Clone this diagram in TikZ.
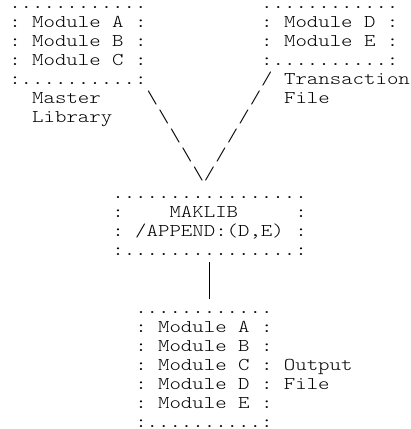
\documentclass[tikz,border=0pt]{standalone}
\usepackage{fontspec}
\newfontfamily\asciifont{lmmonolt10-regular.otf}
\frenchspacing
\tikzset{
  asc/.style={anchor=base west, inner sep=0pt, outer sep=0pt, xscale=1.21,
    font=\fontsize{18}{18}\selectfont\asciifont},
  pipe/.style={line width=0.8pt, black}
}
\newcommand\Tx[4]{\node[asc] (#1) at ({9.3+11.45*#2},{8.6+19.03*#3}) {#4};}
\begin{document}
\begin{tikzpicture}[x=1pt,y=-1pt]
\useasboundingbox (0,0) rectangle (411,429);
\fill[white] (0,0) rectangle (411,429);
% Master library box
\Tx{lbtop}{0}{0}{............}
\Tx{lbA}{0}{1}{: Module A :}
\Tx{lbB}{0}{2}{: Module B :}
\Tx{lbC}{0}{3}{: Module C :}
\Tx{lbbot}{0}{4}{:..........:}
\Tx{mlabA}{2}{5}{Master}
\Tx{mlabB}{2}{6}{Library}
% Transaction file box
\Tx{rbtop}{22}{0}{............}
\Tx{rbD}{22}{1}{: Module D :}
\Tx{rbE}{22}{2}{: Module E :}
\Tx{rbbot}{22}{3}{:..........:}
\Tx{tlabA}{24}{4}{Transaction}
\Tx{tlabB}{24}{5}{File}
% backslashes
\Tx{bsA}{12}{5}{\textbackslash}
\Tx{bsB}{13}{6}{\textbackslash}
\Tx{bsC}{14}{7}{\textbackslash}
\Tx{bsD}{15}{8}{\textbackslash}
\Tx{bsE}{16}{9}{\textbackslash}
% slashes
\Tx{fsA}{22}{4}{/}
\Tx{fsB}{21}{5}{/}
\Tx{fsC}{20}{6}{/}
\Tx{fsD}{19}{7}{/}
\Tx{fsE}{18}{8}{/}
\Tx{fsF}{17}{9}{/}
% MAKLIB box
\Tx{mktop}{9}{10}{.................}
\Tx{mkA}{9}{11}{:~~~~MAKLIB~~~~~:}
\Tx{mkB}{9}{12}{: /APPEND:(D,E) :}
\Tx{mkbot}{9}{13}{:...............:}
% connector
\coordinate (pA) at ({15+11.45*17},262);
\coordinate (pB) at ({15+11.45*17},299);
\draw[pipe] (pA) -- (pB);
% Output file box
\Tx{obtop}{11}{16}{............}
\Tx{obA}{11}{17}{: Module A :}
\Tx{obB}{11}{18}{: Module B :}
\Tx{obC}{11}{19}{: Module C : Output}
\Tx{obD}{11}{20}{: Module D : File}
\Tx{obE}{11}{21}{: Module E :}
\Tx{obbot}{11}{22}{:..........:}
\end{tikzpicture}
\end{document}
